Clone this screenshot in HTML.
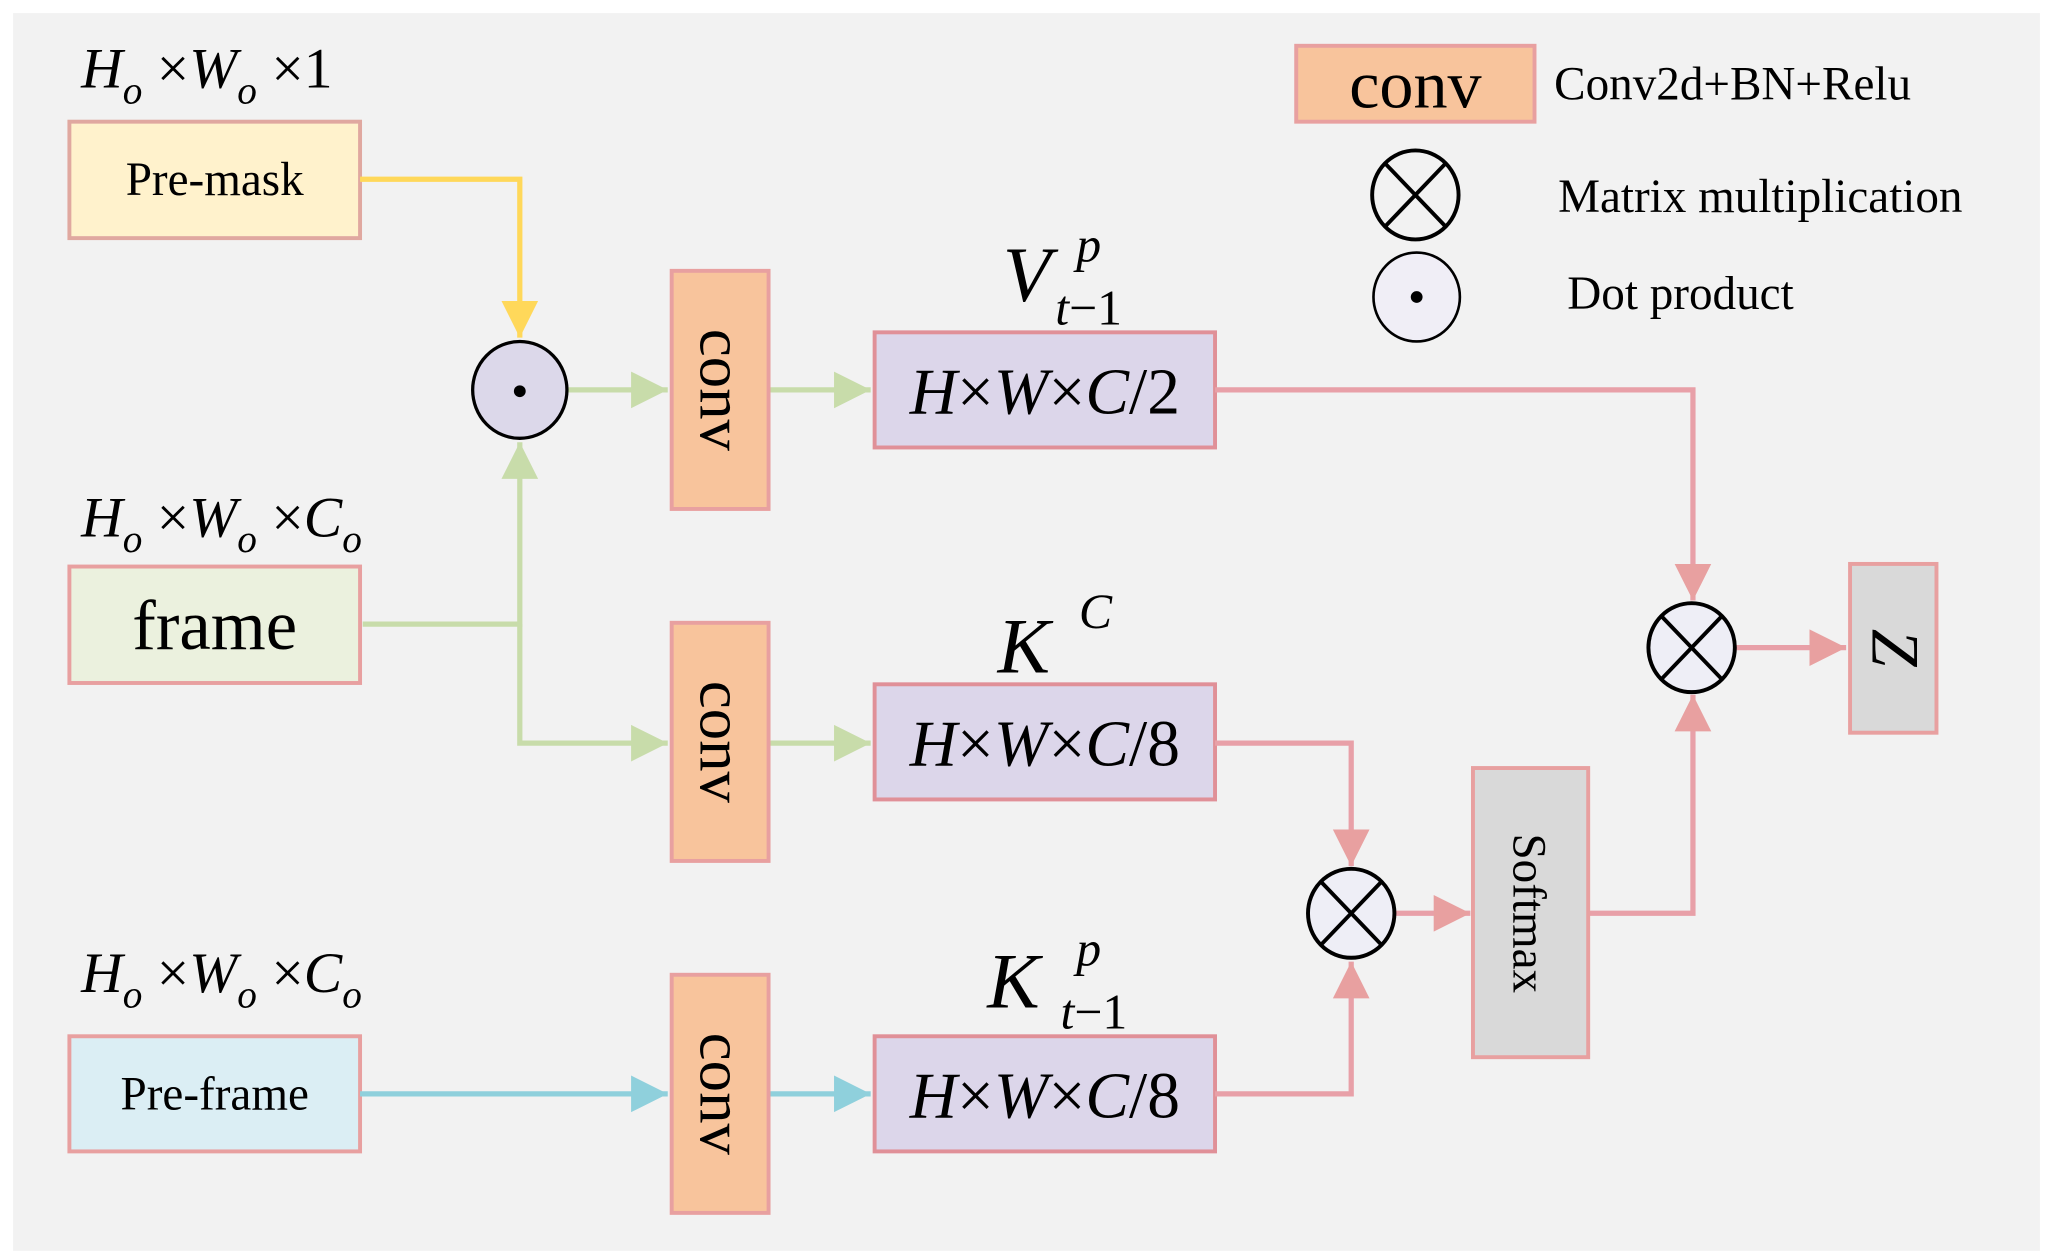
<!DOCTYPE html>
<html><head><meta charset="utf-8"><style>
html,body{margin:0;padding:0;background:#fff;}
svg{display:block;}
text{font-family:"Liberation Serif",serif;fill:#000;}
.it{font-style:italic;}
</style></head><body>
<svg width="2053" height="1260" viewBox="0 0 1568 963" preserveAspectRatio="none" xmlns="http://www.w3.org/2000/svg">
<defs>
<marker id="ay" markerWidth="8" markerHeight="8" refX="7" refY="4" orient="auto" markerUnits="strokeWidth"><path d="M0,0.5 L7,4 L0,7.5z" fill="#ffd85a"/></marker>
<marker id="ag" markerWidth="8" markerHeight="8" refX="7" refY="4" orient="auto" markerUnits="strokeWidth"><path d="M0,0.5 L7,4 L0,7.5z" fill="#c8dcaa"/></marker>
<marker id="ab" markerWidth="8" markerHeight="8" refX="7" refY="4" orient="auto" markerUnits="strokeWidth"><path d="M0,0.5 L7,4 L0,7.5z" fill="#8fd0dc"/></marker>
<marker id="ap" markerWidth="8" markerHeight="8" refX="7" refY="4" orient="auto" markerUnits="strokeWidth"><path d="M0,0.5 L7,4 L0,7.5z" fill="#e8a0a0"/></marker>
</defs>
<rect x="10" y="10" width="1548" height="946" fill="#f2f2f2"/>

<!-- input labels -->
<text class="it" x="62" y="67" font-size="44">H<tspan font-size="30" dy="12">o</tspan><tspan dy="-12" font-style="normal"> ×</tspan>W<tspan font-size="30" dy="12">o</tspan><tspan dy="-12" font-style="normal"> ×1</tspan></text>
<text class="it" x="62" y="410" font-size="44">H<tspan font-size="30" dy="12">o</tspan><tspan dy="-12" font-style="normal"> ×</tspan>W<tspan font-size="30" dy="12">o</tspan><tspan dy="-12" font-style="normal"> ×</tspan>C<tspan font-size="30" dy="12">o</tspan></text>
<text class="it" x="62" y="758" font-size="44">H<tspan font-size="30" dy="12">o</tspan><tspan dy="-12" font-style="normal"> ×</tspan>W<tspan font-size="30" dy="12">o</tspan><tspan dy="-12" font-style="normal"> ×</tspan>C<tspan font-size="30" dy="12">o</tspan></text>

<!-- input boxes -->
<rect x="53" y="93" width="222" height="89" fill="#fff2cc" stroke="#e0a8a0" stroke-width="3"/>
<text x="164" y="149" font-size="36" text-anchor="middle">Pre-mask</text>
<rect x="53" y="433" width="222" height="89" fill="#ebf1de" stroke="#e8a0a0" stroke-width="3"/>
<text x="164" y="496" font-size="54" text-anchor="middle">frame</text>
<rect x="53" y="792" width="222" height="88" fill="#dbeef4" stroke="#e8a0a0" stroke-width="3"/>
<text x="164" y="848" font-size="36" text-anchor="middle">Pre-frame</text>

<!-- connectors left -->
<polyline points="275,137 397,137 397,258" fill="none" stroke="#ffd85a" stroke-width="4" marker-end="url(#ay)"/>
<polyline points="277,477 397,477 397,338" fill="none" stroke="#c8dcaa" stroke-width="4" marker-end="url(#ag)"/>
<polyline points="397,477 397,568 510,568" fill="none" stroke="#c8dcaa" stroke-width="4" marker-end="url(#ag)"/>
<line x1="433" y1="298" x2="510" y2="298" stroke="#c8dcaa" stroke-width="4" marker-end="url(#ag)"/>
<line x1="275" y1="836" x2="510" y2="836" stroke="#8fd0dc" stroke-width="4" marker-end="url(#ab)"/>
<line x1="587" y1="298" x2="665" y2="298" stroke="#c8dcaa" stroke-width="4" marker-end="url(#ag)"/>
<line x1="587" y1="568" x2="665" y2="568" stroke="#c8dcaa" stroke-width="4" marker-end="url(#ag)"/>
<line x1="587" y1="836" x2="665" y2="836" stroke="#8fd0dc" stroke-width="4" marker-end="url(#ab)"/>

<!-- dot circle -->
<ellipse cx="397" cy="298" rx="36" ry="37" fill="#dcd8ea" stroke="#000" stroke-width="2.5"/>
<circle cx="397" cy="299" r="4.5" fill="#000"/>

<!-- conv boxes -->
<g>
<rect x="513" y="207" width="74" height="182" fill="#f8c49c" stroke="#e8a0a0" stroke-width="3"/>
<text transform="translate(535,298) rotate(90)" font-size="48" text-anchor="middle">conv</text>
<rect x="513" y="476" width="74" height="182" fill="#f8c49c" stroke="#e8a0a0" stroke-width="3"/>
<text transform="translate(535,567) rotate(90)" font-size="48" text-anchor="middle">conv</text>
<rect x="513" y="745" width="74" height="182" fill="#f8c49c" stroke="#e8a0a0" stroke-width="3"/>
<text transform="translate(535,836) rotate(90)" font-size="48" text-anchor="middle">conv</text>
</g>

<!-- purple boxes -->
<rect x="668" y="254" width="260" height="88" fill="#dcd6ea" stroke="#e09098" stroke-width="3"/>
<text class="it" x="798" y="316" font-size="50" text-anchor="middle">H<tspan font-style="normal">×</tspan>W<tspan font-style="normal">×</tspan>C<tspan font-style="normal">/2</tspan></text>
<rect x="668" y="523" width="260" height="88" fill="#dcd6ea" stroke="#e09098" stroke-width="3"/>
<text class="it" x="798" y="585" font-size="50" text-anchor="middle">H<tspan font-style="normal">×</tspan>W<tspan font-style="normal">×</tspan>C<tspan font-style="normal">/8</tspan></text>
<rect x="668" y="792" width="260" height="88" fill="#dcd6ea" stroke="#e09098" stroke-width="3"/>
<text class="it" x="798" y="854" font-size="50" text-anchor="middle">H<tspan font-style="normal">×</tspan>W<tspan font-style="normal">×</tspan>C<tspan font-style="normal">/8</tspan></text>

<!-- labels above -->
<text class="it" x="766" y="230" font-size="60">V</text>
<text class="it" x="822" y="200" font-size="38">p</text>
<text class="it" x="806" y="248" font-size="38">t<tspan font-style="normal">−1</tspan></text>
<text class="it" x="762" y="514" font-size="60">K</text>
<text class="it" x="824" y="480" font-size="38">C</text>
<text class="it" x="754" y="770" font-size="60">K</text>
<text class="it" x="822" y="738" font-size="38">p</text>
<text class="it" x="810" y="786" font-size="38">t<tspan font-style="normal">−1</tspan></text>

<!-- pink connectors -->
<polyline points="928,298 1293,298 1293,459" fill="none" stroke="#e8a0a8" stroke-width="4" marker-end="url(#ap)"/>
<polyline points="928,568 1032,568 1032,662" fill="none" stroke="#e8a0a8" stroke-width="4" marker-end="url(#ap)"/>
<polyline points="928,836 1032,836 1032,735" fill="none" stroke="#e8a0a8" stroke-width="4" marker-end="url(#ap)"/>
<line x1="1065" y1="698" x2="1123" y2="698" stroke="#e8a0a8" stroke-width="4" marker-end="url(#ap)"/>
<polyline points="1213,698 1293,698 1293,531" fill="none" stroke="#e8a0a8" stroke-width="4" marker-end="url(#ap)"/>
<line x1="1326" y1="495" x2="1410" y2="495" stroke="#e8a0a8" stroke-width="4" marker-end="url(#ap)"/>

<!-- otimes -->
<g stroke="#000" stroke-width="3">
<ellipse cx="1032" cy="698" rx="33" ry="34" fill="#eeeef6"/>
<line x1="1009" y1="674" x2="1055" y2="722"/><line x1="1055" y1="674" x2="1009" y2="722"/>
<ellipse cx="1292" cy="495" rx="33" ry="34" fill="#eeeef6"/>
<line x1="1269" y1="471" x2="1315" y2="519"/><line x1="1315" y1="471" x2="1269" y2="519"/>
</g>

<!-- softmax & Z -->
<rect x="1125" y="587" width="88" height="221" fill="#d9d9d9" stroke="#e8a0a0" stroke-width="3"/>
<text transform="translate(1156,698) rotate(90)" font-size="36" text-anchor="middle">Softmax</text>
<rect x="1413" y="431" width="66" height="129" fill="#d9d9d9" stroke="#e8a0a0" stroke-width="3"/>
<text class="it" transform="translate(1430,495) rotate(90)" font-size="52" text-anchor="middle">Z</text>

<!-- legend -->
<rect x="990" y="35" width="182" height="58" fill="#f8c49c" stroke="#e8a0a0" stroke-width="3"/>
<text x="1081" y="82" font-size="52" text-anchor="middle">conv</text>
<text x="1187" y="76" font-size="36">Conv2d+BN+Relu</text>
<g stroke="#000" stroke-width="3">
<ellipse cx="1081" cy="149" rx="33" ry="34" fill="#f2f2f2"/>
<line x1="1058" y1="125" x2="1104" y2="173"/><line x1="1104" y1="125" x2="1058" y2="173"/>
<ellipse cx="1082" cy="227" rx="33" ry="34" fill="#f0eef6" stroke-width="2"/>
</g>
<circle cx="1082" cy="227" r="4.5" fill="#000"/>
<text x="1190" y="162" font-size="36">Matrix multiplication</text>
<text x="1197" y="236" font-size="36">Dot product</text>
</svg>
</body></html>
